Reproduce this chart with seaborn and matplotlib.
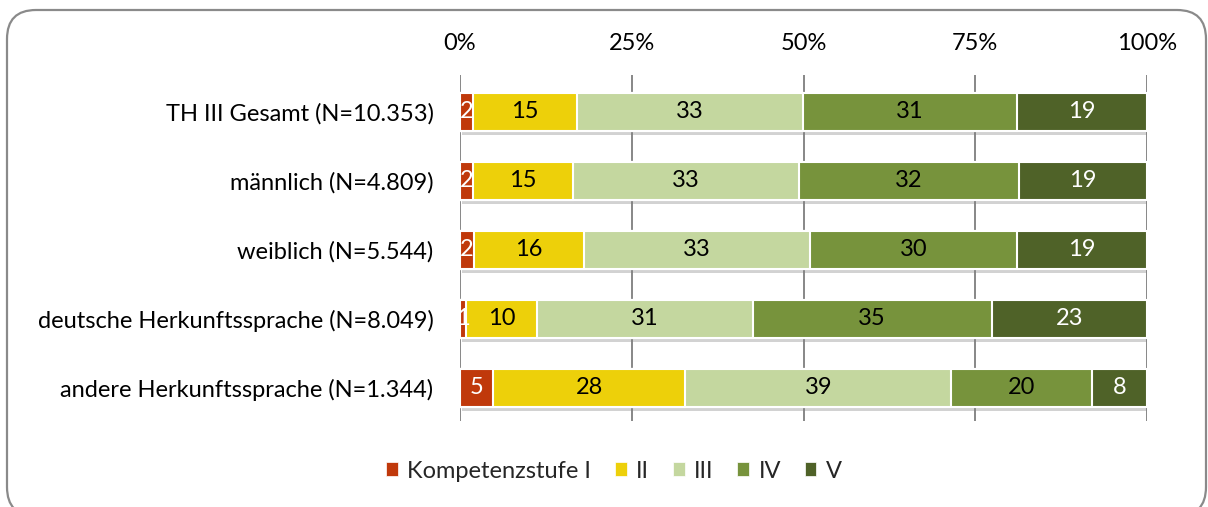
import matplotlib
matplotlib.use("Agg")
import matplotlib.pyplot as plt
import matplotlib.patheffects as pe
from matplotlib.patches import FancyBboxPatch, Patch
import seaborn as sns
import pandas as pd
import numpy as np

categories = ["TH III Gesamt (N=10.353)", "männlich (N=4.809)", "weiblich (N=5.544)",
              "deutsche Herkunftssprache (N=8.049)", "andere Herkunftssprache (N=1.344)"]
levels = ["Kompetenzstufe I", "II", "III", "IV", "V"]
stufe_I = [1.9, 1.9, 2.0, 0.9, 4.8]
stufe_II = [15.1, 14.6, 16.0, 10.3, 28.0]
stufe_III = [32.9, 32.8, 33.0, 31.4, 38.7]
stufe_IV = [31.2, 32.0, 30.1, 34.8, 20.5]
stufe_V = [18.9, 18.7, 18.9, 22.6, 8.0]
labels_I = ["2", "2", "2", "1", "5"]
labels_II = ["15", "15", "16", "10", "28"]
labels_III = ["33", "33", "33", "31", "39"]
labels_IV = ["31", "32", "30", "35", "20"]
labels_V = ["19", "19", "19", "23", "8"]
x_ticks = [0, 25, 50, 75, 100]
x_ticklabels = ["0%", "25%", "50%", "75%", "100%"]

colors = ["#C0390B", "#EDD00A", "#C4D79F", "#77933C", "#4F6228"]
text_colors = ["white", "black", "black", "black", "white"]

series = [stufe_I, stufe_II, stufe_III, stufe_IV, stufe_V]
series_labels = [labels_I, labels_II, labels_III, labels_IV, labels_V]

df = pd.DataFrame({"cat": categories})
cum = np.zeros(len(categories))
starts = []
for lvl, vals in zip(levels, series):
    starts.append(cum.copy())
    cum = cum + np.array(vals)
    df[lvl] = cum

sns.set_theme(style="white")
plt.rcParams["font.family"] = ["Lato", "DejaVu Sans"]
FS = 17

fig = plt.figure(figsize=(12.08, 5.07), dpi=100)
ax = fig.add_axes([460 / 1208, 1 - 421 / 507, 687 / 1208, (421 - 75) / 507])

# frame (bottom edge runs off the image, as in the reference)
frame = FancyBboxPatch((7 / 1208, 1 - 516 / 507), 1199 / 1208, 506 / 507,
                       boxstyle="round,pad=0,rounding_size=0.024",
                       transform=fig.transFigure, facecolor="none",
                       edgecolor="#8a8a8a", linewidth=1.6, mutation_aspect=1208 / 507,
                       clip_on=False)
fig.patches.append(frame)

# gridlines
for t in x_ticks:
    ax.axvline(t, color="#878787", linewidth=1.4, zorder=0)

# layered cumulative bars (largest first)
for i in reversed(range(len(levels))):
    sns.barplot(data=df, y="cat", x=levels[i], orient="h", color=colors[i],
                width=0.55, edgecolor="white", linewidth=1.5, ax=ax,
                saturation=1, zorder=2 + (len(levels) - i))

for p in ax.patches[:len(categories)]:
    p.set_path_effects([pe.SimplePatchShadow(offset=(1.5, -3), shadow_rgbFace="#808080", alpha=0.35),
                        pe.Normal()])

# labels
for i, (vals, labs) in enumerate(zip(series, series_labels)):
    for j, (v, lab) in enumerate(zip(vals, labs)):
        ax.text(starts[i][j] + v / 2, j, lab, ha="center", va="center",
                color=text_colors[i], fontsize=FS, zorder=20)

ax.set_xlim(0, 100)
ax.set_ylim(4.48, -0.53)
ax.set_xticks(x_ticks)
ax.set_xticklabels(x_ticklabels, fontsize=FS)
ax.xaxis.tick_top()
ax.tick_params(axis="x", length=0, pad=15, labelcolor="black")
ax.tick_params(axis="y", length=0, pad=19, labelsize=FS, labelcolor="black")
ax.set_xlabel("")
ax.set_ylabel("")
for s in ax.spines.values():
    s.set_visible(False)
ax.set_facecolor("none")

handles = [Patch(facecolor=c, edgecolor="white", linewidth=0.5) for c in colors]
fig.legend(handles, levels, loc="center", bbox_to_anchor=(614 / 1208, 1 - 471 / 507),
           ncol=5, frameon=False, fontsize=FS, handlelength=0.5, handleheight=0.5,
           handletextpad=0.4, columnspacing=1.0)

fig.savefig("out.png", dpi=100)
